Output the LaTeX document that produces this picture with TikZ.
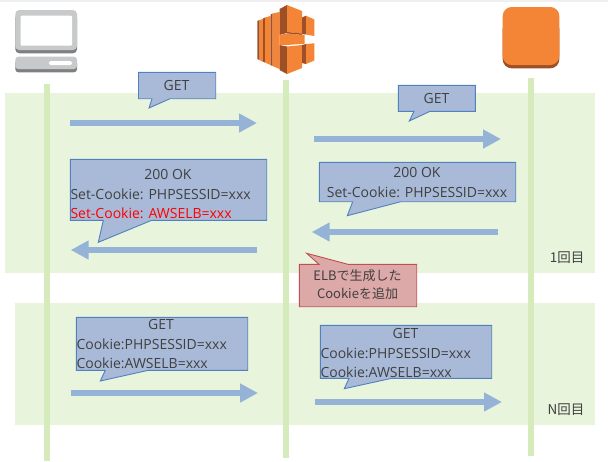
\documentclass[tikz,border=0pt]{standalone}
\usepackage{fontspec}
\usepackage{tikz}
\usetikzlibrary{arrows.meta}
\setmainfont{Open Sans}
\newfontfamily\jpfont{Noto Sans CJK JP}
\definecolor{bandgreen}{HTML}{E9F4DC}
\definecolor{lifegreen}{HTML}{D5EBBB}
\definecolor{arrowblue}{HTML}{95B3D7}
\definecolor{callfill}{HTML}{A9BAD8}
\definecolor{callline}{HTML}{4F81BD}
\definecolor{notefill}{HTML}{DDA8A8}
\definecolor{noteline}{HTML}{C0504D}
\definecolor{awsorange}{HTML}{F58536}
\definecolor{awsdark}{HTML}{9D5025}
\definecolor{pcgray}{HTML}{C8C9CB}
\definecolor{pcdark}{HTML}{7F8081}
\definecolor{inktext}{HTML}{404040}
\tikzset{
  band/.style={fill=bandgreen,draw=none},
  lifeline/.style={draw=lifegreen,line width=6pt},
  msgarrow/.style={draw=arrowblue,line width=6pt,-{Triangle[length=18pt,width=18pt]}},
  callbox/.style={fill=callfill,draw=callline,line width=0.9pt,line join=miter},
  notebox/.style={fill=notefill,draw=noteline,line width=0.9pt},
  calltext/.style={text=inktext,font=\fontsize{14}{16}\selectfont,inner sep=0pt,align=left},
  roundlabel/.style={text=inktext,font=\fontsize{13.5}{14}\jpfont,inner sep=0pt},
  notetext/.style={text=inktext,font=\fontsize{13}{14}\jpfont,inner sep=0pt}
}
\begin{document}
\begin{tikzpicture}[x=1pt,y=-1pt]
    \useasboundingbox (0,0) rectangle (608,461);
    \fill[black!6] (0,0) rectangle (608,2);
    % bands
    \path[band] (5,93) rectangle (595,273);
    \path[band] (15,303) rectangle (595,425);
    % pc
    \fill[pcdark,rounded corners=4pt] (15.3,14) rectangle (77,53.3);
    \fill[pcgray,rounded corners=4pt] (15.3,10) rectangle (77,50);
    \fill[white,rounded corners=1pt] (20.7,15.7) rectangle (72,45.7);
    \fill[pcdark,rounded corners=3pt] (15.3,60) rectangle (77,72.3);
    \fill[pcgray,rounded corners=3pt] (15.3,56.7) rectangle (77,69);
    \fill[white,rounded corners=1.5pt] (49,61) rectangle (72,65);
    % elb
    \fill[awsdark] (257.3,21) -- (259.5,20) -- (259.5,60) -- (257.3,59) -- cycle;
    \fill[awsorange] (259.5,20) -- (263,19) -- (263,62) -- (259.5,60) -- cycle;
    \fill[awsdark] (263,18.5) -- (265,17.5) -- (265,62.5) -- (263,61.5) -- cycle;
    \fill[awsorange] (265,17.5) -- (270.5,16) -- (270.5,65) -- (265,62.5) -- cycle;
    \fill[awsdark] (270.5,14.5) -- (272.5,13.5) -- (272.5,66) -- (270.5,65) -- cycle;
    \fill[awsorange] (272.5,13.5) -- (279.5,12) -- (279.5,69) -- (272.5,66) -- cycle;
    \fill[awsdark] (279.5,9) -- (287,5) -- (287,33) -- (279.5,35) -- cycle;
    \fill[awsorange] (287,5) -- (302,11) -- (302,33.5) -- (287,32) -- cycle;
    \fill[awsdark] (287,32) -- (302,33.5) -- (302,35) -- (287,33.5) -- cycle;
    \fill[awsorange] (279.5,35) -- (287,33.5) -- (304.7,35) -- (304.7,43.7) -- (287,45) -- (279.5,45) -- cycle;
    \fill[awsdark] (279.5,45) -- (287,46.5) -- (287,74) -- (279.5,70) -- cycle;
    \fill[awsorange] (287,46.5) -- (302,45) -- (302,68) -- (287,74) -- cycle;
    \fill[awsdark] (302,17.5) -- (306,15.7) -- (306,34.5) -- (302,34) -- cycle;
    \fill[awsorange] (306,15.7) -- (314.3,19.5) -- (314.3,36) -- (306,34.5) -- cycle;
    \fill[awsdark] (302,45) -- (306,44) -- (306,64) -- (302,63) -- cycle;
    \fill[awsorange] (306,44) -- (314.3,43.3) -- (314.3,60.5) -- (306,64) -- cycle;
    % instance
    \fill[awsdark,rounded corners=9pt] (502.7,20) rectangle (559.3,68.3);
    \fill[awsorange,rounded corners=9pt] (502.7,7) rectangle (559.3,65);
    % lifelines
    \coordinate (pctop) at (47,84);
    \coordinate (pcend) at (47,461);
    \coordinate (elbtop) at (286,80);
    \coordinate (elbend) at (286,458);
    \coordinate (webtop) at (531,78);
    \coordinate (webend) at (531,456);
    \draw[lifeline] (pctop) -- (pcend);
    \draw[lifeline] (elbtop) -- (elbend);
    \draw[lifeline] (webtop) -- (webend);
    % arrows
    \coordinate (reqa) at (70,123);
    \coordinate (reqb) at (257,123);
    \coordinate (fwda) at (314,139);
    \coordinate (fwdb) at (501,139);
    \coordinate (resa) at (498,232);
    \coordinate (resb) at (311.7,232);
    \coordinate (reta) at (257,250);
    \coordinate (retb) at (70.7,250);
    \coordinate (nexta) at (71,393);
    \coordinate (nextb) at (258,393);
    \coordinate (nfwda) at (315,402);
    \coordinate (nfwdb) at (502,402);
    \draw[msgarrow] (reqa) -- (reqb);
    \draw[msgarrow] (fwda) -- (fwdb);
    \draw[msgarrow] (resa) -- (resb);
    \draw[msgarrow] (reta) -- (retb);
    \draw[msgarrow] (nexta) -- (nextb);
    \draw[msgarrow] (nfwda) -- (nfwdb);
    % callouts
    \draw[callbox] (138.5,72.3) -- (215.7,72.3) -- (215.7,98.7) -- (170,98.7) -- (149,108) -- (152,98.7) -- (138.5,98.7) -- cycle;
    \node[calltext] (getreq) at (176.5,85.5) {GET};
    \draw[callbox] (398.3,85.3) -- (475.3,85.3) -- (475.3,111.3) -- (430,111.3) -- (409.3,121) -- (414,111.3) -- (398.3,111.3) -- cycle;
    \node[calltext] (getfwd) at (436.5,98) {GET};
    \draw[callbox] (70.3,159.3) -- (266.7,159.3) -- (266.7,220.3) -- (151.7,220.3) -- (98.3,242.3) -- (103.3,220.3) -- (70.3,220.3) -- cycle;
    \node[calltext] (okret) at (168,174) {200 OK};
    \node[calltext,anchor=west] (setphp) at (70.3,194.5) {Set-Cookie: PHPSESSID=xxx};
    \node[calltext,anchor=west,text=red] (setelb) at (70.3,213.5) {Set-Cookie: AWSELB=xxx};
    \draw[callbox] (319.3,162.3) -- (515.7,162.3) -- (515.7,201.7) -- (400.7,201.7) -- (347.3,215.7) -- (352.7,201.7) -- (319.3,201.7) -- cycle;
    \node[calltext] (okres) at (417,172) {200 OK};
    \node[calltext] (setres) at (417,192) {Set-Cookie: PHPSESSID=xxx};
    \draw[notebox] (299.3,264.3) -- (319,264.3) -- (306.7,253.3) -- (348,264.3) -- (416.7,264.3) -- (416.7,306.7) -- (299.3,306.7) -- cycle;
    \node[notetext] (notea) at (357.5,275.5) {ELBで生成した};
    \node[notetext] (noteb) at (357.5,293.5) {Cookieを追加};
    \draw[callbox] (76.3,317.3) -- (247.7,317.3) -- (247.7,370.3) -- (148.3,370.3) -- (100.3,381) -- (105.3,370.3) -- (76.3,370.3) -- cycle;
    \node[calltext] (getnext) at (161,324) {GET};
    \node[calltext,anchor=west] (cknext) at (76.3,344.5) {Cookie:PHPSESSID=xxx};
    \node[calltext,anchor=west] (elbnext) at (76.3,363.5) {Cookie:AWSELB=xxx};
    \draw[callbox] (320.3,325.3) -- (491.7,325.3) -- (491.7,378.3) -- (391.7,378.3) -- (344.3,388.7) -- (349,378.3) -- (320.3,378.3) -- cycle;
    \node[calltext] (getnfwd) at (405.5,333) {GET};
    \node[calltext,anchor=west] (cknfwd) at (320.3,353.5) {Cookie:PHPSESSID=xxx};
    \node[calltext,anchor=west] (elbnfwd) at (320.3,372.5) {Cookie:AWSELB=xxx};
    % round labels
    \node[roundlabel] (firstround) at (567,258) {1回目};
    \node[roundlabel] (nthround) at (566,410) {N回目};
\end{tikzpicture}
\end{document}
